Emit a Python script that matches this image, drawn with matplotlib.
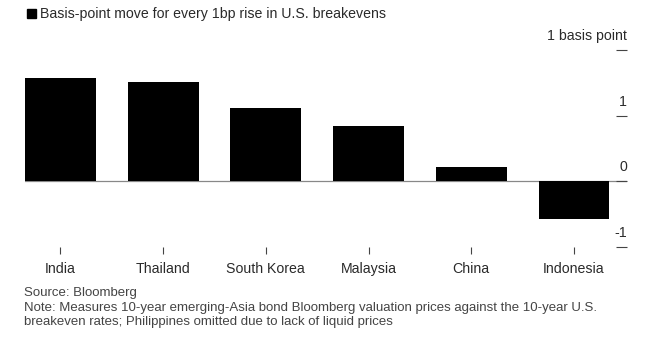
import matplotlib.pyplot as plt
import matplotlib.transforms as mtransforms
from matplotlib.patches import Rectangle

plt.rcParams['font.family'] = ['Liberation Sans', 'DejaVu Sans']

countries = ['India', 'Thailand', 'South Korea', 'Malaysia', 'China', 'Indonesia']
moves = [1.57, 1.52, 1.12, 0.84, 0.22, -0.57]
ytick_vals = [2, 1, 0, -1]
ytick_labels = ['1 basis point', '1', '0', '-1']

fig = plt.figure(figsize=(6.49, 3.40), dpi=100)
ax = fig.add_axes([25 / 649, 1 - 247 / 340, 602 / 649, 197 / 340])

x = list(range(len(countries)))
ax.bar(x, moves, width=0.69, color='black', zorder=2)
ax.axhline(0, color='#888888', lw=0.9, zorder=1)

ax.set_xlim(-0.345, 5.516)
ax.set_ylim(-1, 2)

for s in ax.spines.values():
    s.set_visible(False)

ax.set_xticks(x)
ax.set_xticklabels(countries, fontsize=10.2, color='#2a2a2a')
ax.tick_params(axis='x', length=5, width=0.8, color='#444444', pad=5.5)

ax.yaxis.tick_right()
ax.set_yticks(ytick_vals)
ax.set_yticklabels([])
ax.tick_params(axis='y', direction='in', length=8, width=0.8, color='#444444')

# labels sit above their tick dash, right-aligned
trans = mtransforms.blended_transform_factory(ax.transAxes, ax.transData)
for v, lab in zip(ytick_vals, ytick_labels):
    ax.annotate(lab, (1.0, v), xycoords=trans, xytext=(0, 5), textcoords='offset points',
                ha='right', va='bottom', fontsize=10.2, color='#2a2a2a')

# legend-like header
fig.patches.append(Rectangle((27 / 649, 1 - 18 / 340), 9 / 649, 8.5 / 340,
                             transform=fig.transFigure, color='black'))
fig.text(40 / 649, 1 - 14 / 340, 'Basis-point move for every 1bp rise in U.S. breakevens',
         fontsize=10.2, va='center', ha='left', color='#2a2a2a')

fig.text(24 / 649, 1 - 293 / 340, 'Source: Bloomberg', fontsize=9.5, va='center', color='#444444')
fig.text(24 / 649, 1 - 308 / 340,
         'Note: Measures 10-year emerging-Asia bond Bloomberg valuation prices against the 10-year U.S.',
         fontsize=9.5, va='center', color='#444444')
fig.text(24 / 649, 1 - 322 / 340,
         'breakeven rates; Philippines omitted due to lack of liquid prices',
         fontsize=9.5, va='center', color='#444444')

plt.savefig('out.png', dpi=100)
